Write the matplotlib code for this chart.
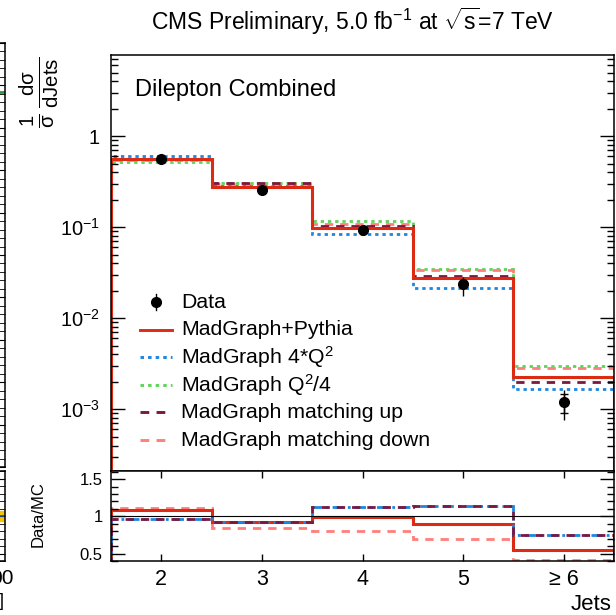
import numpy as np
import matplotlib.pyplot as plt
from matplotlib.ticker import FixedLocator, FixedFormatter, MultipleLocator, NullFormatter, NullLocator

plt.rcParams['font.family'] = ['Liberation Sans', 'DejaVu Sans']
plt.rcParams['mathtext.fontset'] = 'custom'
plt.rcParams['mathtext.rm'] = 'Liberation Sans'
plt.rcParams['mathtext.it'] = 'Liberation Sans'
plt.rcParams['mathtext.sf'] = 'Liberation Sans'
plt.rcParams['axes.linewidth'] = 1.1

# ---------------------------------------------------------
# jet multiplicity bins
# ---------------------------------------------------------
bin_edges = [1.5, 2.5, 3.5, 4.5, 5.5, 6.5]
bin_centers = [2, 3, 4, 5, 6]
bin_labels = ['2', '3', '4', '5', '≥ 6']

# normalised cross section, data
data = [0.56, 0.255, 0.093, 0.0237, 0.00119]
data_tot_lo = [0.53, 0.240, 0.087, 0.0175, 0.00076]
data_tot_hi = [0.59, 0.270, 0.099, 0.0282, 0.00162]
data_stat_lo = [0.55, 0.250, 0.091, 0.0222, 0.00090]
data_stat_hi = [0.57, 0.260, 0.095, 0.0252, 0.00146]

# simulation predictions
mg_pythia = [0.56, 0.280, 0.098, 0.0275, 0.00225]
mg_q2_up = [0.60, 0.285, 0.084, 0.0214, 0.00166]
mg_q2_down = [0.52, 0.305, 0.116, 0.0350, 0.00297]
mg_match_up = [0.555, 0.305, 0.102, 0.0290, 0.00198]
mg_match_down = [0.55, 0.300, 0.108, 0.0340, 0.00283]

# data / MC ratios
ratio_pythia = [1.086, 0.93, 0.99, 0.90, 0.55]
ratio_q2_up = [0.96, 0.925, 1.12, 1.14, 0.75]
ratio_match_up = [0.96, 0.925, 1.12, 1.14, 0.75]
ratio_match_down = [1.11, 0.85, 0.81, 0.70, 0.42]

# log axis labels
ytick_vals = [1e-3, 1e-2, 1e-1, 1]
ytick_labels = ['10$^{-3}$', '10$^{-2}$', '10$^{-1}$', '1']
ratio_ticks = [0.5, 1.0, 1.5]
ratio_tick_labels = ['0.5', '1', '1.5']

legend_labels = ['Data', 'MadGraph+Pythia', 'MadGraph 4*Q$^{2}$', 'MadGraph Q$^{2}$/4',
                 'MadGraph matching up', 'MadGraph matching down']

# neighbouring panel (only its edge shows)
side_band = [0.93, 1.07]
side_level = [0.885]

c_red = '#dd2a12'
c_blue = '#1c86e0'
c_green = '#5fd35a'
c_maroon = '#7b1840'
c_pink = '#ff7f7a'
dot = (0, (1.2, 1.4))
dash = (0, (3, 2.5))

W, H = 616, 615
fig = plt.figure(figsize=(W / 100, H / 100), dpi=100)


def frac(x0, y0, x1, y1):
    return [x0 / W, 1 - y1 / H, (x1 - x0) / W, (y1 - y0) / H]


ax = fig.add_axes(frac(111, 55, 614, 471))
rax = fig.add_axes(frac(111, 471, 614, 561))

# ---------------------------------------------------------
# main panel
# ---------------------------------------------------------
ax.stairs(mg_q2_down, bin_edges, color=c_green, lw=2.0, ls=dot)
ax.stairs(mg_match_down, bin_edges, color=c_pink, lw=2.0, ls=dash)
ax.stairs(mg_match_up, bin_edges, color=c_maroon, lw=2.0, ls=dash)
ax.stairs(mg_q2_up, bin_edges, color=c_blue, lw=2.0, ls=dot)
ax.stairs(mg_pythia, bin_edges, color=c_red, lw=2.2)

d = np.array(data)
ax.errorbar(bin_centers, d,
            yerr=[d - np.array(data_tot_lo), np.array(data_tot_hi) - d],
            fmt='none', ecolor='black', elinewidth=1.0, capsize=0)
ax.errorbar(bin_centers, d,
            yerr=[d - np.array(data_stat_lo), np.array(data_stat_hi) - d],
            fmt='none', ecolor='black', elinewidth=1.0, capsize=3, capthick=1.0)
ax.plot(bin_centers, d, 'o', color='black', ms=7)

ax.set_yscale('log')
ax.set_ylim(2.1e-4, 7.8)
ax.set_xlim(1.5, 6.5)
ax.yaxis.set_major_locator(FixedLocator(ytick_vals))
ax.yaxis.set_major_formatter(FixedFormatter(ytick_labels))
minor = [m * 10.0 ** e for e in range(-4, 1) for m in range(2, 10)]
ax.yaxis.set_minor_locator(FixedLocator(minor))
ax.yaxis.set_minor_formatter(NullFormatter())
ax.xaxis.set_major_locator(NullLocator())
ax.tick_params(axis='y', which='both', direction='in', left=True, right=True, labelsize=14.5, pad=8)
ax.tick_params(axis='y', which='major', length=10, width=1.0)
ax.tick_params(axis='y', which='minor', length=5, width=1.0)

ax.text(0.048, 0.915, 'Dilepton Combined', transform=ax.transAxes, fontsize=17, va='center')

# legend rows, laid out in axes fractions
leg_x0, leg_x1, leg_tx = 29 / 503, 61 / 503, 70 / 503
leg_top, leg_step = (471 - 302) / 416, 27.6 / 416
for i, lab in enumerate(legend_labels):
    yy = leg_top - i * leg_step
    if i == 0:
        xm = 0.5 * (leg_x0 + leg_x1)
        ax.plot([xm, xm], [yy - 0.02, yy + 0.02], color='black', lw=1.0, transform=ax.transAxes)
        ax.plot([xm], [yy], 'o', color='black', ms=7, transform=ax.transAxes)
    else:
        st = [(c_red, '-'), (c_blue, dot), (c_green, dot), (c_maroon, dash), (c_pink, dash)][i - 1]
        ax.plot([leg_x0, leg_x1], [yy, yy], color=st[0], ls=st[1], lw=2.1, transform=ax.transAxes)
    ax.text(leg_tx, yy, lab, transform=ax.transAxes, fontsize=15.3, va='center')

fig.text(39 / W, 1 - 92 / H, r'$\frac{1}{\sigma}\,\frac{d\sigma}{dJets}$',
         fontsize=21, rotation=90, ha='center', va='center')

fig.text(353 / W, 1 - 21 / H, r'CMS Preliminary, 5.0 fb$^{-1}$ at $\sqrt{s}$=7 TeV',
         fontsize=16.5, ha='center', va='center')

# ---------------------------------------------------------
# ratio panel
# ---------------------------------------------------------
rax.axhline(1.0, color='black', lw=0.8)
rax.stairs(ratio_match_down, bin_edges, color=c_pink, lw=2.0, ls=dash)
rax.stairs(ratio_pythia, bin_edges, color=c_red, lw=2.2)
rax.stairs(ratio_q2_up, bin_edges, color=c_blue, lw=2.0, ls=(0, (4, 1.5, 1, 1.5)))
rax.stairs(ratio_match_up, bin_edges, color=c_maroon, lw=2.0, ls=(2, (3, 2.5)))

rax.set_xlim(1.5, 6.5)
rax.set_ylim(0.4, 1.61)
rax.xaxis.set_major_locator(FixedLocator(bin_centers))
rax.xaxis.set_major_formatter(FixedFormatter(bin_labels))
rax.yaxis.set_major_locator(FixedLocator(ratio_ticks))
rax.yaxis.set_major_formatter(FixedFormatter(ratio_tick_labels))
rax.yaxis.set_minor_locator(MultipleLocator(0.1))
rax.tick_params(axis='x', which='major', direction='in', top=True, bottom=True,
                length=5, width=1.0, labelsize=15.5, pad=6)
rax.tick_params(axis='y', which='both', direction='in', left=True, right=True, labelsize=12, pad=6)
rax.tick_params(axis='y', which='major', length=10, width=1.0)
rax.tick_params(axis='y', which='minor', length=5, width=1.0)
fig.text(38 / W, 1 - 514 / H, 'Data/MC', fontsize=12, rotation=90, ha='center', va='center')
fig.text(612 / W, 1 - 604 / H, 'Jets', fontsize=16, ha='right', va='center')

# ---------------------------------------------------------
# right edge of the neighbouring panel
# ---------------------------------------------------------
sax = fig.add_axes(frac(-300, 43, 5, 467))
sax.set_xlim(0, 1)
sax.set_ylim(0, 1)
sax.plot([0.95, 1.0], [side_level[0], side_level[0]], color='#2a9a3a', lw=2)
sax.yaxis.set_major_locator(MultipleLocator(0.1))
sax.yaxis.set_minor_locator(MultipleLocator(0.02))
sax.tick_params(axis='y', which='both', direction='in', left=False, right=True,
                labelright=False, labelleft=False, length=5)
sax.xaxis.set_major_locator(NullLocator())

srax = fig.add_axes(frac(-300, 471, 5, 561))
srax.set_xlim(0, 1)
srax.set_ylim(0.4, 1.6)
srax.axhspan(side_band[0], side_band[1], color='#f5c400')
srax.axhline(1.0, color='#1f4fa0', lw=1.2)
srax.yaxis.set_major_locator(MultipleLocator(0.5))
srax.yaxis.set_minor_locator(MultipleLocator(0.1))
srax.tick_params(axis='y', which='both', direction='in', left=False, right=True,
                 labelright=False, labelleft=False, length=5)
srax.xaxis.set_major_locator(NullLocator())
fig.text(14 / W, 1 - 578 / H, '00', fontsize=15, ha='right', va='center')
fig.text(4 / W, 1 - 601 / H, ']', fontsize=13, ha='right', va='center')

fig.savefig('out.png', dpi=100)
